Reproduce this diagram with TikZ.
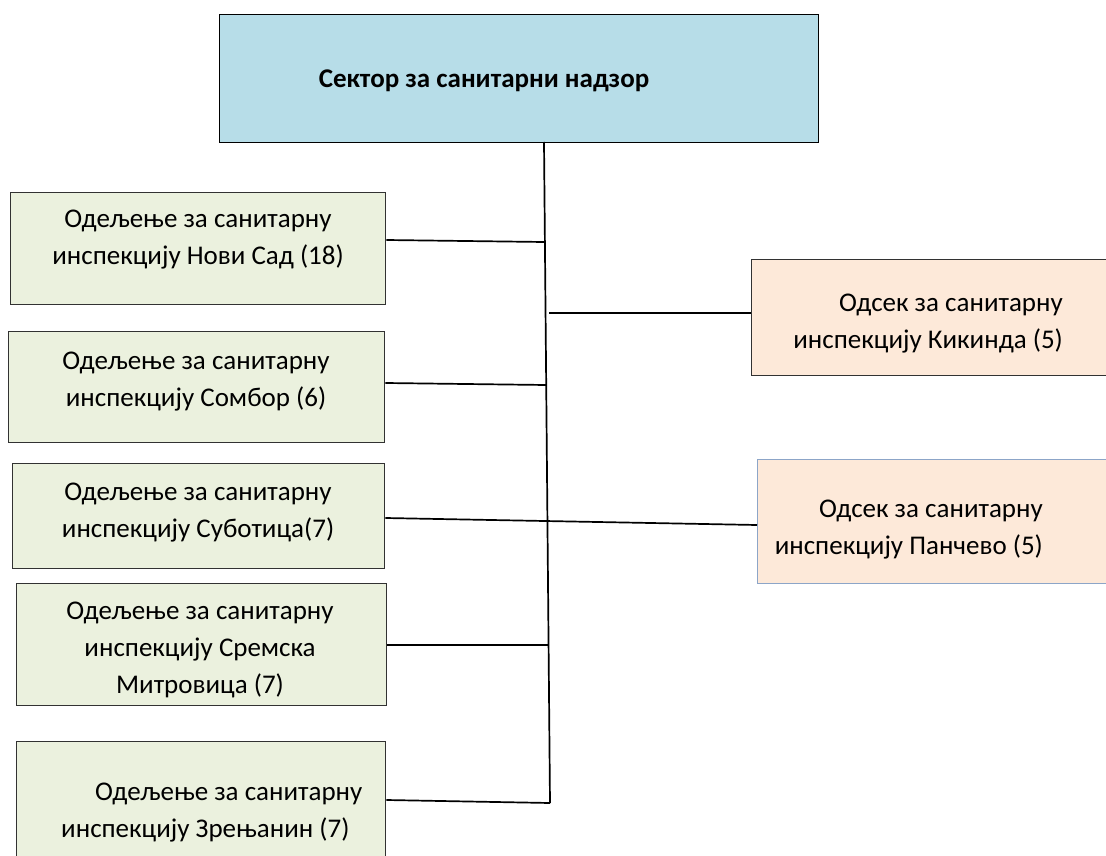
\documentclass[tikz,border=0pt]{standalone}
\usepackage{fontspec}
\setmainfont{Carlito}
\definecolor{topfill}{RGB}{183,221,232}
\definecolor{greenfill}{RGB}{235,241,222}
\definecolor{peachfill}{RGB}{253,233,217}
\definecolor{boxline}{RGB}{50,50,50}
\definecolor{blueline}{RGB}{140,165,200}
\begin{document}
\begin{tikzpicture}[x=1pt,y=-1pt,
  box/.style={draw=boxline, line width=1.4pt, inner sep=0pt, anchor=north west},
  gbox/.style={box, fill=greenfill},
  pbox/.style={box, fill=peachfill},
  lbl/.style={inner sep=0pt, font=\fontsize{27}{37}\selectfont},
  conn/.style={draw=black, line width=1.7pt}]
\useasboundingbox (0,0) rectangle (1106,856);
% boxes
\node[box, draw=black, fill=topfill, minimum width=599pt, minimum height=128pt] (top) at (219,14) {};
\node[gbox, minimum width=375pt, minimum height=112pt] (ns) at (10,192) {};
\node[gbox, minimum width=376pt, minimum height=111pt] (so) at (8,331) {};
\node[gbox, minimum width=372pt, minimum height=105pt] (su) at (12,463) {};
\node[gbox, minimum width=370pt, minimum height=122pt] (sm) at (16,583) {};
\node[gbox, minimum width=369pt, minimum height=140pt] (zr) at (16,741) {};
\node[pbox, minimum width=380pt, minimum height=116pt] (ki) at (751,259) {};
\node[pbox, draw=blueline, minimum width=380pt, minimum height=124pt] (pa) at (757,459) {};
% labels
\node[lbl, font=\fontsize{27}{37}\selectfont\bfseries] (topT) at (484,81) {Сектор за санитарни надзор};
\node[lbl, align=center] (nsT) at (198,240) {Одељење за санитарну\\инспекцију Нови Сад (18)};
\node[lbl, align=center] (soT) at (196,382) {Одељење за санитарну\\инспекцију Сомбор (6)};
\node[lbl, align=center] (suT) at (198,513) {Одељење за санитарну\\инспекцију Суботица(7)};
\node[lbl, align=center] (smT) at (200,650) {Одељење за санитарну\\инспекцију Сремска\\Митровица (7)};
\node[lbl, align=left, anchor=west] (zrT) at (61,813) {\hspace*{34pt}Одељење за санитарну\\инспекцију Зрењанин (7)};
\node[lbl, align=right, anchor=east] (kiT) at (1063,324) {Одсек за санитарну\\инспекцију Кикинда (5)};
\node[lbl, align=right, anchor=east] (paT) at (1043,530) {Одсек за санитарну\\инспекцију Панчево (5)};
% trunk
\coordinate (t0) at (544,142);
\coordinate (tns) at (544,242);
\coordinate (tki) at (549,313);
\coordinate (tso) at (546,385);
\coordinate (tsm) at (548,645);
\coordinate (tzr) at (550,803);
\draw[conn] (t0) -- (tzr);
\draw[conn] (ns.east |- 0,240) -- (tns);
\draw[conn] (tki) -- (ki.west |- tki);
\draw[conn] (so.east |- 0,383) -- (tso);
\draw[conn] (su.east |- 0,518) -- (pa.west |- 0,525);
\draw[conn] (sm.east |- tsm) -- (tsm);
\draw[conn] (zr.east |- 0,800) -- (tzr);
\end{tikzpicture}
\end{document}
